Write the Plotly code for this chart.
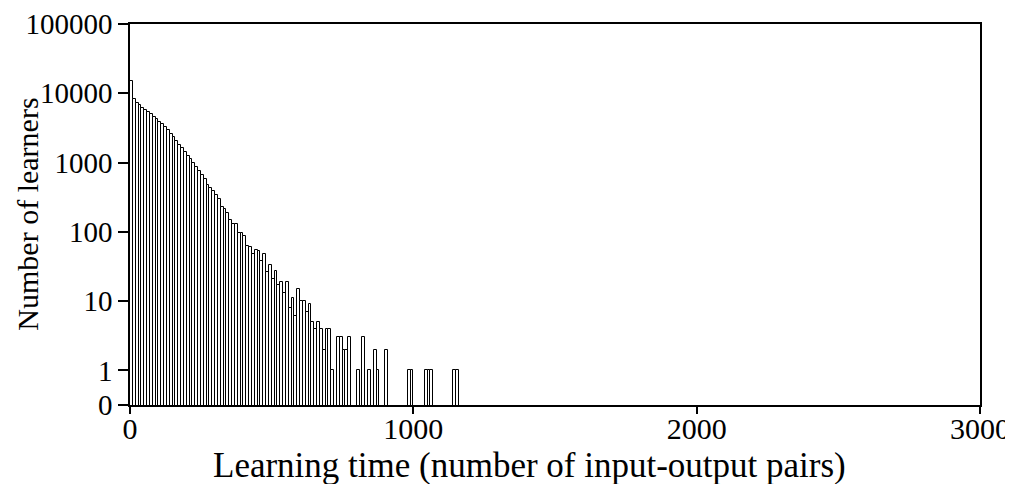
import plotly.graph_objects as go

# Histogram of learning times: bin left edges (width 10) and counts
bin_width = 10
bin_starts = list(range(0, 1160, bin_width))
counts = [
    14800, 8300, 7300, 6700, 6200, 5800, 5400, 5000, 4600, 4300,
    3900, 3600, 3250, 2950, 2600, 2300, 2050, 1800, 1600, 1420,
    1250, 1120, 980, 850, 760, 660, 575, 475, 430, 390,
    340, 300, 230, 215, 186, 150, 130, 128, 95, 95,
    88, 62, 60, 48, 55, 53, 38, 48, 26, 33,
    21, 27, 17, 19, 13, 19, 8, 11, 6, 15,
    10, 10, 7, 9, 5, 4, 5, 4, 2, 4,
    4, 1, 0, 3, 3, 2, 2, 3, 0, 0,
    1, 0, 3, 0, 1, 0, 2, 1, 0, 0,
    2, 0, 0, 0, 0, 0, 0, 0, 1, 1,
    0, 0, 0, 0, 1, 1, 1, 0, 0, 0,
    0, 0, 0, 0, 1, 1,
]

y_tickvals = [10 ** -0.5, 1, 10, 100, 1000, 10000, 100000]
y_ticktext = ["0", "1", "10", "100", "1000", "10000", "100000"]
x_tickvals = [0, 1000, 2000, 3000]

x_title = "Learning time (number of input-output pairs)"
y_title = "Number of learners"

FONT = "Liberation Serif, Times New Roman, serif"

fig = go.Figure(
    go.Bar(
        x=bin_starts,
        y=counts,
        width=bin_width,
        offset=0,
        marker=dict(color="white", line=dict(color="black", width=1)),
        showlegend=False,
    )
)

fig.update_layout(
    width=1005,
    height=476,
    margin=dict(l=122, r=33, t=16, b=79),
    paper_bgcolor="white",
    plot_bgcolor="white",
    font=dict(family=FONT, color="black", size=29),
    bargap=0,
    annotations=[
        dict(text=x_title, xref="paper", yref="paper", x=0.47, y=-0.16,
             xanchor="center", yanchor="middle", showarrow=False,
             font=dict(size=35)),
        dict(text=y_title, xref="paper", yref="paper", x=-0.121, y=0.5,
             xanchor="center", yanchor="middle", showarrow=False,
             textangle=-90, font=dict(size=30)),
    ],
)

fig.update_xaxes(
    range=[0, 3000],
    tickvals=x_tickvals,
    ticks="outside",
    ticklen=7,
    tickwidth=1.5,
    tickcolor="black",
    ticklabelstandoff=-11,
    showline=True,
    linecolor="black",
    linewidth=1.5,
    mirror=True,
    showgrid=False,
    zeroline=False,
    automargin=False,
    tickfont=dict(size=30),
)

fig.update_yaxes(
    type="log",
    range=[-0.5, 5],
    tickvals=y_tickvals,
    ticktext=y_ticktext,
    ticks="outside",
    ticklen=10,
    tickwidth=1.5,
    tickcolor="black",
    showline=True,
    linecolor="black",
    linewidth=1.5,
    mirror=True,
    showgrid=False,
    zeroline=False,
    automargin=False,
    tickfont=dict(size=29),
)

fig.write_html("out.html")
